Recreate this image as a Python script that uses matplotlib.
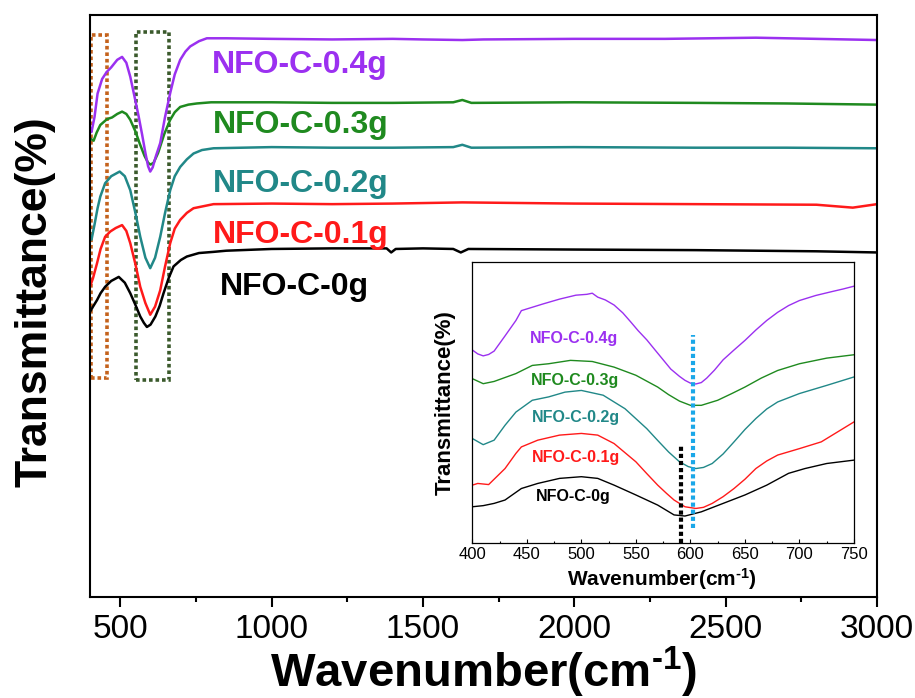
import matplotlib
matplotlib.use("Agg")
import matplotlib.pyplot as plt
from matplotlib.patches import Rectangle
from matplotlib.ticker import MultipleLocator

plt.rcParams["font.family"] = ["Liberation Sans", "DejaVu Sans"]
plt.rcParams["mathtext.fontset"] = "custom"
plt.rcParams["mathtext.rm"] = "Liberation Sans:bold"
plt.rcParams["mathtext.default"] = "rm"

# ---- main spectra (wavenumber, transmittance in arbitrary offset units)
x_04 = [400, 405, 415, 425, 440, 455, 470, 490, 506, 520, 533, 547, 561, 572, 583, 592,
        599, 607, 618, 632, 648, 665, 680, 698, 715, 731, 760, 786, 850, 1000, 1200,
        1400, 1500, 1630, 1700, 2000, 2300, 2600, 2900, 3000]
y_04 = [80.6, 79.9, 82.5, 86.5, 89.0, 90.2, 91.0, 92.3, 92.8, 91.8, 89.4, 86.0, 82.5, 79.5,
        76.3, 74.0, 73.1, 73.8, 75.8, 78.0, 82.5, 86.6, 89.8, 92.3, 93.7, 94.6, 95.5, 96.0,
        96.0, 95.9, 95.8, 95.9, 95.8, 95.7, 95.8, 95.9, 95.9, 96.1, 95.8, 95.7]

x_03 = [400, 412, 422, 434, 456, 473, 490, 506, 520, 533, 550, 565, 580, 592, 600, 610,
        625, 645, 665, 680, 698, 725, 753, 800, 1000, 1200, 1400, 1600, 1630, 1660, 2000,
        2400, 2700, 3000]
y_03 = [78.8, 78.4, 79.8, 81.1, 82.1, 82.4, 83.0, 83.4, 83.0, 82.0, 80.0, 77.8, 75.8, 74.6,
        74.3, 74.6, 76.3, 79.5, 82.0, 83.3, 84.2, 84.6, 84.8, 85.0, 85.0, 84.9, 84.9, 85.0,
        85.4, 84.9, 85.0, 84.9, 84.8, 84.6]

x_02 = [400, 405, 415, 425, 434, 450, 470, 498, 515, 533, 550, 566, 583, 599, 615, 632,
        648, 665, 680, 698, 720, 742, 770, 808, 1000, 1200, 1400, 1600, 1630, 1660, 2000,
        2400, 2700, 3000]
y_02 = [61.6, 61.4, 64.0, 66.8, 68.8, 71.1, 72.3, 73.1, 72.3, 69.9, 66.0, 61.9, 58.3, 56.5,
        58.3, 61.9, 66.0, 69.9, 72.3, 73.9, 75.2, 76.2, 76.8, 77.1, 77.3, 77.2, 77.2, 77.3,
        77.7, 77.2, 77.3, 77.2, 77.2, 77.1]

x_01 = [400, 410, 423, 435, 450, 467, 485, 506, 520, 533, 550, 566, 583, 599, 615, 632,
        648, 665, 680, 698, 720, 742, 808, 1000, 1200, 1400, 1630, 2000, 2400, 2800, 2920,
        2960, 3000]
y_01 = [53.3, 54.8, 57.3, 59.8, 61.9, 62.8, 63.4, 63.9, 62.9, 60.8, 57.2, 53.3, 50.5, 48.5,
        49.9, 52.7, 56.8, 60.8, 63.3, 64.8, 66.0, 66.8, 67.5, 67.6, 67.5, 67.6, 67.8, 67.6,
        67.5, 67.4, 66.9, 67.2, 67.5]

x_00 = [400, 410, 423, 435, 450, 470, 495, 515, 533, 550, 566, 578, 588, 600, 616, 630,
        643, 660, 676, 700, 720, 760, 808, 850, 1000, 1200, 1380, 1395, 1410, 1500, 1600,
        1625, 1650, 2000, 2400, 2800, 3000]
y_00 = [49.0, 49.9, 51.0, 52.2, 53.3, 54.3, 55.0, 54.0, 52.2, 50.2, 48.2, 47.1, 46.4, 46.8,
        48.2, 50.0, 52.2, 54.8, 56.8, 57.9, 58.5, 59.1, 59.3, 59.5, 59.8, 59.9, 59.9, 59.2,
        59.8, 59.9, 59.8, 59.2, 59.8, 59.7, 59.6, 59.4, 59.2]

# ---- inset spectra (400-750 cm-1)
xi_04 = [400, 405, 410, 415, 420, 430, 440, 445, 455, 465, 480, 495, 505, 510, 515, 522,
         530, 538, 545, 552, 560, 568, 575, 582, 590, 595, 600, 605, 610, 615, 622, 630,
         640, 650, 660, 670, 680, 690, 700, 715, 730, 740, 750]
yi_04 = [68.8, 67.4, 66.7, 67.2, 68.4, 73.8, 79.3, 82.8, 84.0, 85.2, 86.9, 88.3, 88.6, 89.0,
         87.6, 86.6, 84.8, 82.0, 78.9, 75.7, 72.4, 68.6, 65.3, 62.0, 59.4, 58.0, 57.0, 56.7,
         57.2, 58.8, 61.6, 65.3, 68.8, 72.2, 75.9, 79.3, 82.2, 84.6, 86.4, 88.2, 89.6, 90.5,
         91.5]

xi_03 = [400, 410, 420, 440, 455, 470, 490, 510, 530, 550, 570, 580, 590, 600, 610, 625,
         638, 650, 665, 680, 700, 725, 750]
yi_03 = [58.6, 56.8, 57.6, 60.4, 63.3, 63.9, 65.1, 64.7, 62.7, 59.8, 55.6, 52.9, 50.6, 49.1,
         49.1, 50.9, 53.3, 55.6, 58.8, 61.5, 63.9, 65.9, 67.1]

xi_02 = [400, 410, 420, 430, 440, 455, 470, 485, 500, 520, 540, 560, 570, 580, 590, 598,
         605, 612, 620, 630, 640, 650, 660, 670, 680, 700, 725, 750]
yi_02 = [37.3, 35.1, 36.7, 42.0, 46.7, 50.9, 52.1, 53.8, 54.4, 52.7, 47.9, 40.8, 36.6, 32.5,
         29.0, 27.3, 26.6, 27.0, 28.4, 31.8, 36.1, 40.5, 44.4, 47.8, 50.3, 53.3, 56.2, 59.2]

xi_01 = [400, 405, 415, 430, 440, 445, 460, 480, 500, 515, 530, 550, 560, 570, 578, 585,
         595, 605, 612, 620, 630, 640, 650, 660, 670, 680, 700, 720, 750]
yi_01 = [20.7, 21.3, 20.9, 26.6, 32.0, 34.3, 36.7, 38.5, 39.1, 38.5, 35.5, 29.0, 24.8, 20.7,
         17.8, 15.4, 13.0, 12.4, 12.8, 14.2, 16.6, 19.5, 22.8, 26.6, 29.3, 31.4, 33.7, 36.1,
         43.2]

xi_00 = [400, 410, 420, 430, 445, 460, 480, 500, 515, 530, 550, 570, 585, 595, 610, 630,
         650, 670, 690, 705, 725, 750]
yi_00 = [13.0, 13.4, 14.2, 15.4, 19.5, 21.3, 23.1, 23.7, 23.1, 20.7, 17.2, 13.6, 10.1, 9.7,
         11.2, 14.2, 17.2, 20.7, 24.9, 26.6, 28.4, 29.6]

labels = ["NFO-C-0g", "NFO-C-0.1g", "NFO-C-0.2g", "NFO-C-0.3g", "NFO-C-0.4g"]
colors = ["#000000", "#ff1a1a", "#218888", "#1f8a1f", "#9b30f0"]

main_x = [x_00, x_01, x_02, x_03, x_04]
main_y = [y_00, y_01, y_02, y_03, y_04]
inset_x = [xi_00, xi_01, xi_02, xi_03, xi_04]
inset_y = [yi_00, yi_01, yi_02, yi_03, yi_04]

# label anchors
main_lab_x = [830, 807, 807, 807, 804]
main_lab_y = [51.9, 60.8, 69.6, 79.7, 90.0]
inset_lab_x = [492.7, 495, 495, 494.6, 493.2]
inset_lab_y = [15.0, 29.0, 43.0, 56.4, 71.4]

xlabel = r"Wavenumber(cm$^{\text{-1}}$)"

W, H = 915, 698
fig = plt.figure(figsize=(W / 100, H / 100), dpi=100)

ax = fig.add_axes([90 / W, 1 - 597 / H, (877 - 90) / W, (597 - 15) / H])
for xs, ys, c in zip(main_x, main_y, colors):
    ax.plot(xs, ys, color=c, lw=1.8)
for lab, c, lx, ly in zip(labels, colors, main_lab_x, main_lab_y):
    ax.text(lx, ly, lab, color=c, fontsize=23, fontweight="bold", ha="left", va="baseline")

ax.add_patch(Rectangle((404, 37.6), 52, 59.0, fill=False, ec="#c4621c", lw=2.6,
                       ls=(0, (1, 0.8)), clip_on=False))
ax.add_patch(Rectangle((553, 37.3), 107, 59.8, fill=False, ec="#3b5a2c", lw=2.6,
                       ls=(0, (1, 0.8)), clip_on=False))

ax.set_xlim(400, 3000)
ax.set_ylim(0, 100)
ax.set_yticks([])
ax.xaxis.set_major_locator(MultipleLocator(500))
ax.xaxis.set_minor_locator(MultipleLocator(250))
ax.tick_params(axis="x", which="major", direction="out", length=7, width=1.5, labelsize=24, pad=5)
ax.tick_params(axis="x", which="minor", direction="out", length=3.5, width=1.5)
for s in ax.spines.values():
    s.set_linewidth(1.5)

fig.text(35 / W, 1 - 302 / H, "Transmittance(%)", rotation=90, fontsize=32,
         fontweight="bold", ha="center", va="center")
fig.text(483.5 / W, 1 - 687 / H, xlabel, fontsize=34, fontweight="bold",
         ha="center", va="baseline")

# ---- inset
axi = fig.add_axes([472.3 / W, 1 - 543.3 / H, (854 - 472.3) / W, (543.3 - 262.3) / H])
for xs, ys, c in zip(inset_x, inset_y, colors):
    axi.plot(xs, ys, color=c, lw=1.0)
for lab, c, lx, ly in zip(labels, colors, inset_lab_x, inset_lab_y):
    axi.text(lx, ly, lab, color=c, fontsize=11.5, fontweight="bold", ha="center", va="baseline")

axi.plot([591, 591], [0, 34.9], color="black", lw=3, ls=(0, (1, 0.7)))
axi.plot([602, 602], [5.3, 74.0], color="#1aa7e8", lw=3, ls=(0, (1, 0.7)))

axi.set_xlim(400, 750)
axi.set_ylim(0, 100)
axi.set_yticks([])
axi.xaxis.set_major_locator(MultipleLocator(50))
axi.xaxis.set_minor_locator(MultipleLocator(25))
axi.tick_params(axis="x", which="major", direction="in", length=3, width=0.8, labelsize=12, pad=3)
axi.tick_params(axis="x", which="minor", direction="in", length=1.8, width=0.8)
for s in axi.spines.values():
    s.set_linewidth(0.9)

fig.text(445 / W, 1 - 403 / H, "Transmittance(%)", rotation=90, fontsize=16,
         fontweight="bold", ha="center", va="center")
fig.text(662 / W, 1 - 586 / H, xlabel, fontsize=15, fontweight="bold",
         ha="center", va="baseline")

fig.savefig("out.png", dpi=100)
